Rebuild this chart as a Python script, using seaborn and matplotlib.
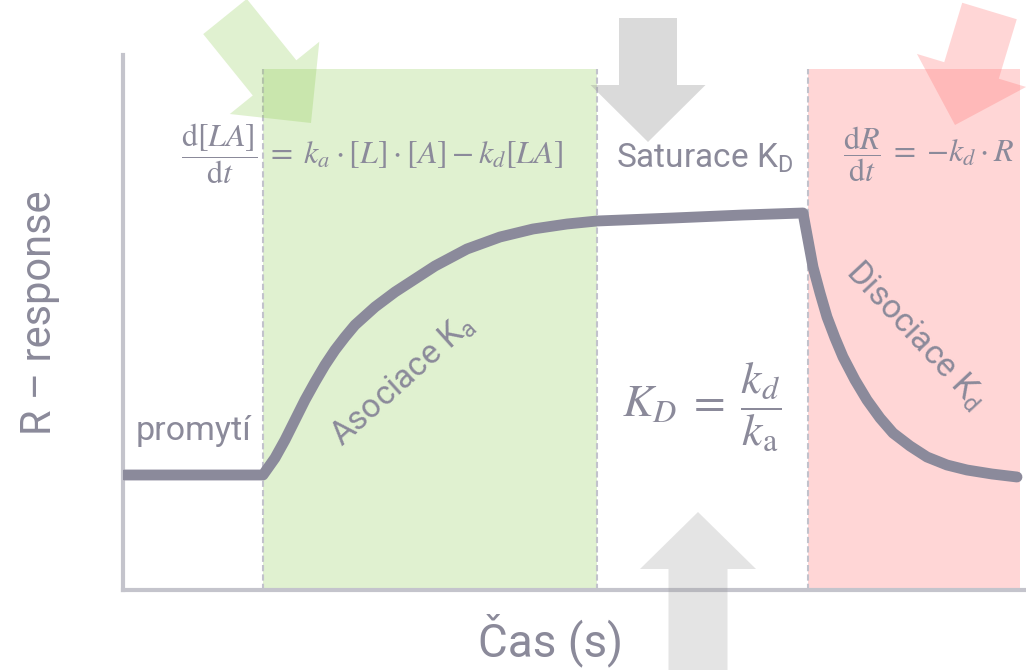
import matplotlib
matplotlib.use('Agg')

import pandas as pd
import matplotlib.pyplot as plt
import matplotlib.patches as mpatches
import seaborn as sns

# Schematický sensorgram (čas v s, odezva R v libovolných jednotkách)
cas = [2, 140, 152, 162, 172, 182, 192, 202, 212, 222, 232, 252, 272, 292, 312,
       344, 377, 410, 444, 474, 550, 620, 680,
       685, 690, 697, 704, 712, 720, 732, 744, 757, 770, 787, 804, 824, 844, 869, 894]
odezva = [115, 115, 132, 150, 170, 190, 208, 225, 240, 253, 265, 283, 298, 311, 324,
          341, 353, 361, 366, 369, 372, 375, 377,
          350, 323, 297, 273, 252, 233, 210, 190, 172, 157, 144, 133, 125, 120, 116, 113]

# hranice fází: asociace / disociace
asociace = [140, 474]
disociace = [685, 897]
horni_mez = 521

popisky = {
    "y": "R – response",
    "x": "Čas (s)",
    "promyti": "promytí",
    "saturace": r"Saturace K$_\mathrm{D}$",
    "asociace": r"Asociace K$_\mathrm{a}$",
    "disociace": r"Disociace K$_\mathrm{d}$",
}

rovnice_asoc = (r"$\dfrac{\mathrm{d}[LA]}{\mathrm{d}t} \;=\; k_a \cdot [L] \cdot [A]"
                r" - k_d[LA]$")
rovnice_disoc = r"$\dfrac{\mathrm{d}R}{\mathrm{d}t} \;=\; {-k_d} \cdot R$"
rovnice_kd = r"$K_D \;=\; \dfrac{k_d}{k_\mathrm{a}}$"

SEDA_TEXT = "#8b8a9a"
SEDA_OSA = "#c4c4cc"
ZELENA = (136 / 255, 201 / 255, 74 / 255)
CERVENA = (1.0, 110 / 255, 110 / 255)

sns.set_theme(style="white")
plt.rcParams['font.family'] = ['Roboto', 'DejaVu Sans']
plt.rcParams['mathtext.fontset'] = 'custom'
plt.rcParams['mathtext.rm'] = 'Roboto'
plt.rcParams['mathtext.it'] = 'Roboto:italic'
plt.rcParams['mathtext.bf'] = 'Roboto:bold'

df = pd.DataFrame({"cas": cas, "odezva": odezva})

fig = plt.figure(figsize=(10.26, 6.70), dpi=100)
ax = fig.add_axes([123 / 1026, 80 / 670, 903 / 1026, 535 / 670])

# barevné oblasti fází
ax.fill_between(asociace, 0, horni_mez, color=ZELENA, alpha=0.26, lw=0, zorder=0)
ax.fill_between(disociace, 0, horni_mez, color=CERVENA, alpha=0.28, lw=0, zorder=0)
for xv in [asociace[0], asociace[1], disociace[0]]:
    ax.vlines(xv, 0, horni_mez, color="#c2c2cc", lw=1.5, linestyle=(0, (3, 1.5)), zorder=1)

sns.lineplot(data=df, x="cas", y="odezva", ax=ax, color="#8b8a9b", linewidth=7.8,
             solid_capstyle="round", solid_joinstyle="round", sort=False, zorder=4)

ax.set_xlim(0, 903)
ax.set_ylim(0, 535)
ax.set_xticks([])
ax.set_yticks([])
for s in ["top", "right"]:
    ax.spines[s].set_visible(False)
for s in ["left", "bottom"]:
    ax.spines[s].set_color(SEDA_OSA)
    ax.spines[s].set_linewidth(3)

ax.set_xlabel(popisky["x"], fontsize=33, color=SEDA_TEXT)
ax.set_ylabel(popisky["y"], fontsize=30, color=SEDA_TEXT)
ax.xaxis.set_label_coords(0.473, -0.093)
ax.xaxis.label.set_verticalalignment("center")
ax.yaxis.set_label_coords(-0.092, 0.518)
ax.yaxis.label.set_verticalalignment("center")

# šipky
sipky = [
    dict(x=102, y=573.5, dx=86, dy=-106.5, width=56, head_width=115, head_length=58,
         color=ZELENA, alpha=0.26),
    dict(x=525, y=572, dx=0, dy=-124, width=58, head_width=115, head_length=57,
         color=(0.59, 0.59, 0.59), alpha=0.35),
    dict(x=575, y=-90, dx=0, dy=168, width=59, head_width=116, head_length=57,
         color=(0.59, 0.59, 0.59), alpha=0.25),
    dict(x=866.5, y=579, dx=-34.5, dy=-114, width=57, head_width=114, head_length=57,
         color=CERVENA, alpha=0.28),
]
for s in sipky:
    a = mpatches.FancyArrow(s["x"], s["y"], s["dx"], s["dy"], width=s["width"],
                            head_width=s["head_width"], head_length=s["head_length"],
                            length_includes_head=True, color=s["color"], alpha=s["alpha"],
                            lw=0, clip_on=False, zorder=3)
    ax.add_patch(a)

# popisky
ax.text(70, 159, popisky["promyti"], fontsize=24.5, color=SEDA_TEXT, ha="center", va="center")
ax.text(582, 432, popisky["saturace"], fontsize=24, color=SEDA_TEXT, ha="center", va="center")
ax.text(280, 210, popisky["asociace"], fontsize=24, color=SEDA_TEXT, ha="center", va="center",
        rotation=42, rotation_mode="anchor")
ax.text(792, 255, popisky["disociace"], fontsize=24, color=SEDA_TEXT, ha="center", va="center",
        rotation=-47, rotation_mode="anchor")

ax.text(249, 436, rovnice_asoc, fontsize=23, color=SEDA_TEXT, ha="center", va="center",
        math_fontfamily="stix")
ax.text(806, 436, rovnice_disoc, fontsize=23, color=SEDA_TEXT, ha="center", va="center",
        math_fontfamily="stix")
ax.text(579, 183, rovnice_kd, fontsize=33, color=SEDA_TEXT, ha="center", va="center",
        math_fontfamily="stix")

plt.savefig("out.png", dpi=100)
plt.close()
